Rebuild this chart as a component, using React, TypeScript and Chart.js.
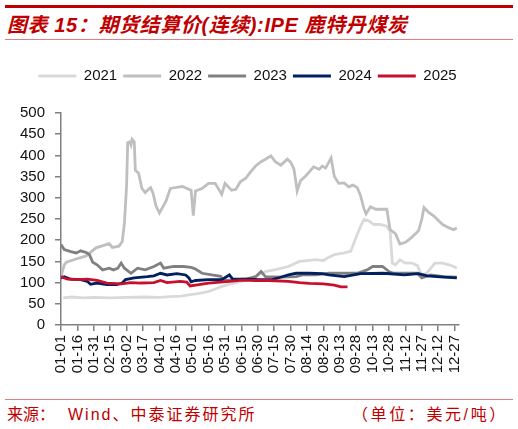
import React, { useEffect, useRef } from 'react';
import { Chart, registerables } from 'chart.js';

Chart.register(...registerables);

const years = ['2021', '2022', '2023', '2024', '2025'];
const colors = ['#d9d9d9', '#bfbfbf', '#808080', '#002060', '#c8102e'];

const tickLabels = [
  '01-01', '01-16', '01-31', '02-15', '03-02', '03-17', '04-01', '04-16', '05-01',
  '05-16', '05-31', '06-15', '06-30', '07-15', '07-30', '08-14', '08-29', '09-13',
  '09-28', '10-13', '10-28', '11-12', '11-27', '12-12', '12-27',
];

// day-of-year (0 = 01-01) and value pairs
const days2021 = [2, 10, 20, 30, 45, 60, 75, 90, 100, 110, 117, 125, 135, 141, 147, 155, 165, 172, 178, 187, 195, 202, 208, 213, 218, 225, 233, 240, 245, 250, 259, 265, 269, 274, 277, 282, 286, 292, 298, 301, 303, 306, 310, 315, 321, 326, 330, 335, 342, 349, 355, 359, 362];
const vals2021 = [64, 66, 64, 65, 64, 65, 66, 65, 67, 68, 71, 74, 79, 85, 91, 97, 103, 108, 115, 126, 130, 134, 138, 144, 150, 152, 154, 152, 160, 166, 170, 174, 201, 233, 249, 245, 237, 237, 233, 221, 146, 142, 154, 146, 146, 140, 116, 124, 146, 146, 142, 138, 134];

const days2022 = [0, 3, 5, 13, 23, 32, 44, 47, 53, 56, 58, 60, 61, 63, 64, 65, 67, 68, 71, 74, 77, 80, 82, 84, 87, 90, 96, 100, 111, 119, 121, 123, 129, 135, 141, 147, 150, 156, 160, 164, 169, 173, 178, 183, 187, 192, 196, 201, 207, 210, 213, 215, 216, 219, 224, 231, 236, 239, 242, 247, 250, 254, 259, 263, 267, 271, 274, 277, 279, 283, 288, 298, 301, 306, 310, 315, 320, 327, 330, 332, 336, 341, 349, 355, 359, 362];
const vals2022 = [114, 142, 148, 155, 163, 182, 192, 183, 186, 197, 240, 330, 430, 432, 425, 438, 432, 365, 358, 322, 312, 320, 324, 312, 280, 264, 292, 322, 327, 318, 258, 316, 322, 334, 334, 308, 334, 318, 320, 338, 346, 360, 375, 385, 391, 399, 385, 377, 391, 384, 368, 335, 316, 340, 352, 373, 367, 375, 370, 394, 350, 334, 335, 326, 330, 324, 305, 275, 262, 279, 273, 273, 225, 215, 191, 195, 205, 222, 250, 277, 266, 257, 237, 229, 225, 229];

const days2023 = [0, 3, 9, 14, 18, 23, 26, 29, 33, 38, 44, 48, 52, 55, 58, 64, 70, 77, 85, 91, 94, 103, 112, 119, 123, 129, 138, 146, 148, 152, 160, 170, 178, 183, 187, 202, 215, 221, 233, 245, 253, 271, 280, 285, 294, 300, 304, 326, 330, 338, 350, 362];
const vals2023 = [190, 178, 173, 170, 175, 171, 166, 148, 142, 130, 134, 130, 134, 146, 134, 122, 134, 130, 138, 146, 134, 138, 138, 136, 132, 122, 118, 115, 107, 105, 107, 109, 114, 126, 114, 113, 114, 118, 118, 122, 122, 122, 130, 138, 138, 126, 122, 122, 111, 118, 114, 113];

const days2024 = [0, 3, 9, 18, 24, 27, 33, 42, 51, 56, 59, 67, 79, 85, 91, 97, 106, 114, 117, 119, 123, 135, 147, 154, 157, 172, 181, 193, 200, 208, 215, 227, 239, 245, 259, 274, 295, 314, 327, 335, 350, 362];
const vals2024 = [111, 114, 108, 107, 103, 96, 99, 95, 95, 99, 107, 111, 114, 116, 122, 118, 121, 118, 111, 102, 105, 107, 107, 118, 108, 108, 107, 107, 112, 118, 122, 122, 121, 118, 114, 121, 122, 118, 121, 116, 113, 111];

const days2025 = [0, 6, 15, 24, 33, 42, 55, 64, 73, 85, 91, 97, 109, 115, 118, 126, 135, 154, 166, 178, 190, 208, 218, 227, 240, 250, 256, 262];
const vals2025 = [114, 108, 107, 108, 105, 99, 97, 100, 99, 100, 105, 100, 103, 101, 92, 95, 99, 103, 106, 105, 105, 103, 100, 98, 97, 94, 90, 90];

const seriesDays = [days2021, days2022, days2023, days2024, days2025];
const seriesVals = [vals2021, vals2022, vals2023, vals2024, vals2025];

const FONT = "'Liberation Sans', Arial, 'Noto Sans CJK SC', sans-serif";

const legendGap = {
  id: 'legendGap',
  beforeInit(chart: any) {
    const legend = chart.legend;
    if (!legend) return;
    const fit = legend.fit;
    legend.fit = function () {
      fit.call(legend);
      this.height += 19.5;
    };
  },
};

function ChartCanvas() {
  const ref = useRef<HTMLCanvasElement>(null);
  useEffect(() => {
    if (!ref.current) return;
    const datasets = years.map((y, i) => ({
      label: y,
      data: seriesDays[i].map((d, j) => ({ x: d, y: seriesVals[i][j] })),
      borderColor: colors[i],
      backgroundColor: colors[i],
      borderWidth: 2.8,
      pointRadius: 0,
      tension: 0,
      order: 5 - i,
    }));
    const axisLine = { display: true, color: '#808080', width: 1.5 };
    const tickGrid = { display: true, drawOnChartArea: false, drawTicks: true, tickLength: 6, color: '#808080', lineWidth: 1.5 };
    const chart = new Chart(ref.current, {
      type: 'line',
      data: { datasets },
      plugins: [legendGap],
      options: {
        animation: false,
        responsive: true,
        maintainAspectRatio: false,
        layout: { padding: { top: 22.5, left: 0, right: 23, bottom: 23 } },
        plugins: {
          tooltip: { enabled: false },
          legend: {
            display: true,
            position: 'top',
            labels: {
              usePointStyle: true,
              pointStyle: 'line',
              pointStyleWidth: 38,
              padding: 6,
              color: '#111',
              font: { size: 15, family: FONT },
              sort: (a: any, b: any) => a.datasetIndex - b.datasetIndex,
            },
          },
        },
        scales: {
          x: {
            type: 'linear',
            min: 0,
            max: 364,
            afterFit: (s: any) => { s.height = 50; },
            border: axisLine,
            grid: tickGrid,
            ticks: {
              stepSize: 15,
              autoSkip: false,
              includeBounds: false,
              maxRotation: 90,
              minRotation: 90,
              padding: 4,
              color: '#111',
              font: { size: 15, family: FONT },
              callback: (v: any) => tickLabels[Math.round(Number(v) / 15)] ?? '',
            },
          },
          y: {
            type: 'linear',
            min: 0,
            max: 500,
            afterFit: (s: any) => { s.width = 61; },
            border: axisLine,
            grid: tickGrid,
            ticks: {
              stepSize: 50,
              padding: 10,
              color: '#111',
              font: { size: 15, family: FONT },
            },
          },
          spacer: {
            type: 'linear',
            position: 'right',
            display: true,
            min: 0,
            max: 500,
            afterFit: (s: any) => { s.width = 36; },
            border: { display: false },
            grid: { display: false },
            ticks: { display: false },
          },
        },
      },
    });
    return () => chart.destroy();
  }, []);
  return <canvas ref={ref} />;
}

const footStyle: React.CSSProperties = {
  position: 'absolute', top: 406, fontSize: 16, lineHeight: '18px', color: '#c00000', whiteSpace: 'nowrap',
};

export default function App() {
  return (
    <div style={{ position: 'absolute', left: 0, top: 0, width: 518, height: 429, background: '#fff', fontFamily: FONT, overflow: 'hidden' }}>
      <div style={{ position: 'absolute', left: 5, top: 5, width: 508, height: 2.5, background: '#c00000' }} />
      <div
        style={{
          position: 'absolute', left: 7, top: 12, fontSize: 20, lineHeight: '26px', fontWeight: 'bold',
          fontStyle: 'italic', color: '#c00000', whiteSpace: 'nowrap', letterSpacing: 0.6,
        }}
      >
        图表 15：期货结算价(连续):IPE 鹿特丹煤炭
      </div>
      <div style={{ position: 'absolute', left: 5, top: 39, width: 508, height: 1, background: '#dc8080' }} />
      <div style={{ position: 'absolute', left: 0, top: 40, width: 518, height: 358 }}>
        <ChartCanvas />
      </div>
      <div style={{ position: 'absolute', left: 5, top: 399, width: 508, height: 1, background: '#dc8080' }} />
      <div style={{ ...footStyle, left: 7 }}>来源：</div>
      <div style={{ ...footStyle, left: 68, letterSpacing: 2 }}>Wind、中泰证券研究所</div>
      <div style={{ ...footStyle, left: 352, letterSpacing: 2.6 }}>（单位：美元/吨）</div>
    </div>
  );
}
